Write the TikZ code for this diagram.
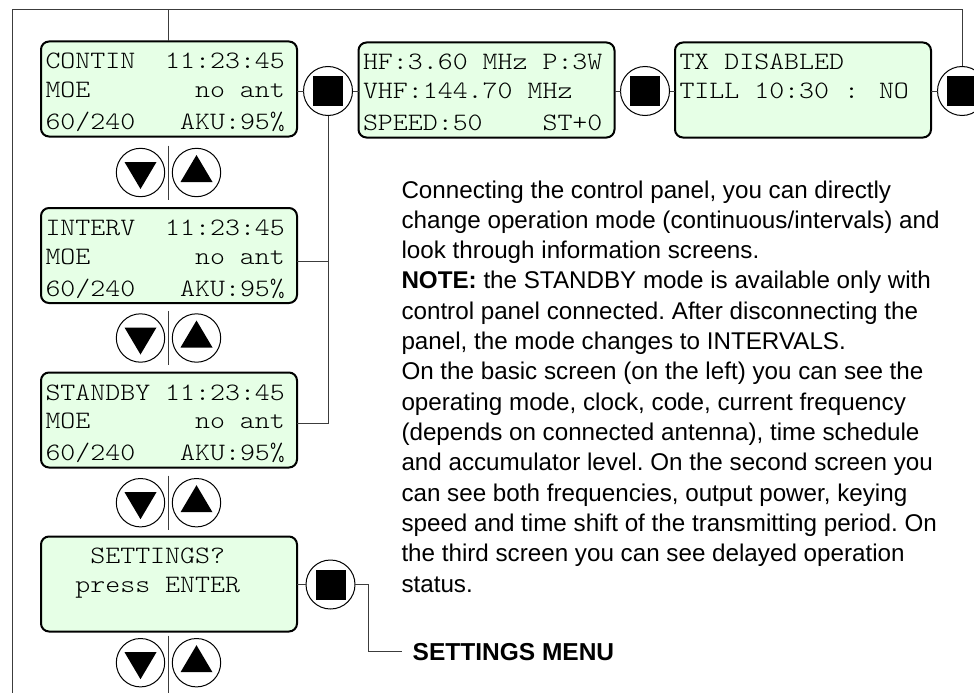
\documentclass[tikz,border=0pt]{standalone}
\usepackage{fontspec}
\setmainfont{Liberation Sans}
\newfontfamily\lcdfont{lmmonolt10-regular.otf}[FakeStretch=1.14]
\usetikzlibrary{calc}

\definecolor{lcdgreen}{RGB}{230,255,230}
\definecolor{wirecol}{RGB}{60,60,60}

\tikzset{
  lcd/.style={draw=black, line width=2pt, rounded corners=8pt, fill=lcdgreen,
    minimum width=256pt, minimum height=95pt, inner sep=0pt, outer sep=0pt},
  lcdrow/.style={anchor=base west, inner sep=0pt, outer sep=0pt,
    font=\lcdfont\fontsize{25}{25}\selectfont},
  key/.style={circle, draw=black, line width=1pt, fill=white,
    minimum size=49pt, inner sep=0pt, outer sep=0pt},
  enterkey/.style={key, path picture={
      \fill[black] ($(path picture bounding box.center)+(-15,-15)$)
        rectangle ($(path picture bounding box.center)+(15,15)$);}},
  downkey/.style={key, minimum size=48.4pt, path picture={
      \fill[black] ($(path picture bounding box.center)+(-16,-10.5)$)
        -- ($(path picture bounding box.center)+(16,-10.5)$)
        -- ($(path picture bounding box.center)+(0,16.5)$) -- cycle;}},
  upkey/.style={key, minimum size=48.4pt, path picture={
      \fill[black] ($(path picture bounding box.center)+(-16,9.5)$)
        -- ($(path picture bounding box.center)+(16,9.5)$)
        -- ($(path picture bounding box.center)+(0,-17.5)$) -- cycle;}},
  wire/.style={draw=wirecol, line width=1pt},
  para/.style={anchor=base west, inner sep=0pt, outer sep=0pt,
    font=\fontsize{24.2}{30}\selectfont\frenchspacing},
}

% three text rows of a 16-character display
\newcommand\lcdrows[4]{%
  \node[lcdrow] (#1-r1) at ($(#1.north west)+(4.5,27.5)$) {#2};
  \node[lcdrow] (#1-r2) at ($(#1.north west)+(4.5,56)$) {#3};
  \node[lcdrow] (#1-r3) at ($(#1.north west)+(4.5,88)$) {#4};}

\begin{document}
\begin{tikzpicture}[x=1pt, y=-1pt]
\useasboundingbox (0,0) rectangle (974,693);
\clip (0,0) rectangle (974,693);
\fill[white] (0,0) rectangle (974,693);

% displays
\node[lcd] (contin)  at (169,89)    {};
\node[lcd] (freq)    at (486.5,90)  {};
\node[lcd] (txoff)   at (803,90)    {};
\node[lcd] (interv)  at (169,255.5) {};
\node[lcd] (standby) at (169,420)   {};
\node[lcd] (setup)   at (169,584)   {};

\lcdrows{contin}{CONTIN~~11:23:45}{MOE~~~~~~~no~ant}{60/240~~~AKU:95\%}
\lcdrows{freq}{HF:3.60 MHz P:3W}{VHF:144.70 MHz}{SPEED:50~~~~ST+0}
\lcdrows{txoff}{TX DISABLED}{TILL 10:30 : NO}{}
\lcdrows{interv}{INTERV~~11:23:45}{MOE~~~~~~~no~ant}{60/240~~~AKU:95\%}
\lcdrows{standby}{STANDBY 11:23:45}{MOE~~~~~~~no~ant}{60/240~~~AKU:95\%}
\node[lcdrow] (setup-r1) at ($(setup.north west)+(4.5,27)$) {~~~SETTINGS?};
\node[lcdrow] (setup-r2) at ($(setup.north west)+(4.5,55.5)$) {~~press ENTER};

% enter keys
\node[enterkey] (k1) at (328,91)    {};
\node[enterkey] (k2) at (645,91)    {};
\node[enterkey] (k3) at (962,91)    {};
\node[enterkey] (k4) at (330.5,584.5) {};

% up/down key pairs with their divider
\foreach \cy [count=\i] in {172.5,338,502.7,662.7} {
  \node[downkey] (dn\i) at (140.5,\cy) {};
  \node[upkey]   (up\i) at (196.5,\cy) {};
  \coordinate (dt\i) at (168.3,{\cy-27});
  \coordinate (db\i) at (168.3,{\cy+27});
}
\coordinate (db4) at (168.3,693);
\foreach \i in {1,...,4} { \draw[wire] (dt\i) -- (db\i); }

% outer frame
\coordinate (tl) at (12,10);
\coordinate (bl) at (12,693);
\coordinate (tr) at (962,10);
\coordinate (tm) at (168.3,10);
\draw[wire] (bl) -- (tl) -- (tr) -- (k3.north);
\draw[wire] (tm) -- (tm |- contin.north);

% top row connections
\draw[wire] (k1.west -| contin.east) -- (k1.west);
\draw[wire] (k1.east) -- (k1.east -| freq.west);
\draw[wire] (k2.west -| freq.east) -- (k2.west);
\draw[wire] (k2.east) -- (k2.east -| txoff.west);
\draw[wire] (k3.west -| txoff.east) -- (k3.west);

% enter key returns to the mode screens
\coordinate (istub) at ($(interv.east)+(0,5.5)$);
\coordinate (sstub) at ($(standby.east)+(0,3)$);
\draw[wire] (k1.south) -- (k1.south |- sstub) -- (sstub);
\draw[wire] (istub) -- (istub -| k1.south);

% settings menu branch
\node[anchor=base west, inner xsep=11pt, inner ysep=0pt, outer sep=0pt,
  font=\bfseries\fontsize{24.5}{26}\selectfont] (menu) at (401.7,660) {SETTINGS MENU};
\draw[wire] (k4.west -| setup.east) -- (k4.west);
\coordinate (mbend) at ($(k4.east)+(13,0)$);
\draw[wire] (k4.east) -- (mbend) |- (menu.west);

% description
\foreach \ln [count=\i] in {
  {Connecting the control panel, you can directly},
  {change operation mode (continuous/intervals) and},
  {look through information screens.},
  {\textbf{NOTE:} the STANDBY mode is available only with},
  {control panel connected. After disconnecting the},
  {panel, the mode changes to INTERVALS.},
  {On the basic screen (on the left) you can see the},
  {operating mode, clock, code, current frequency},
  {(depends on connected antenna), time schedule},
  {and accumulator level. On the second screen you},
  {can see both frequencies, output power, keying},
  {speed and time shift of the transmitting period. On},
  {the third screen you can see delayed operation},
  {status.}} {
  \node[para] (txt\i) at (401.5,{198+(\i-1)*30.33}) {\ln};
}
\end{tikzpicture}
\end{document}
